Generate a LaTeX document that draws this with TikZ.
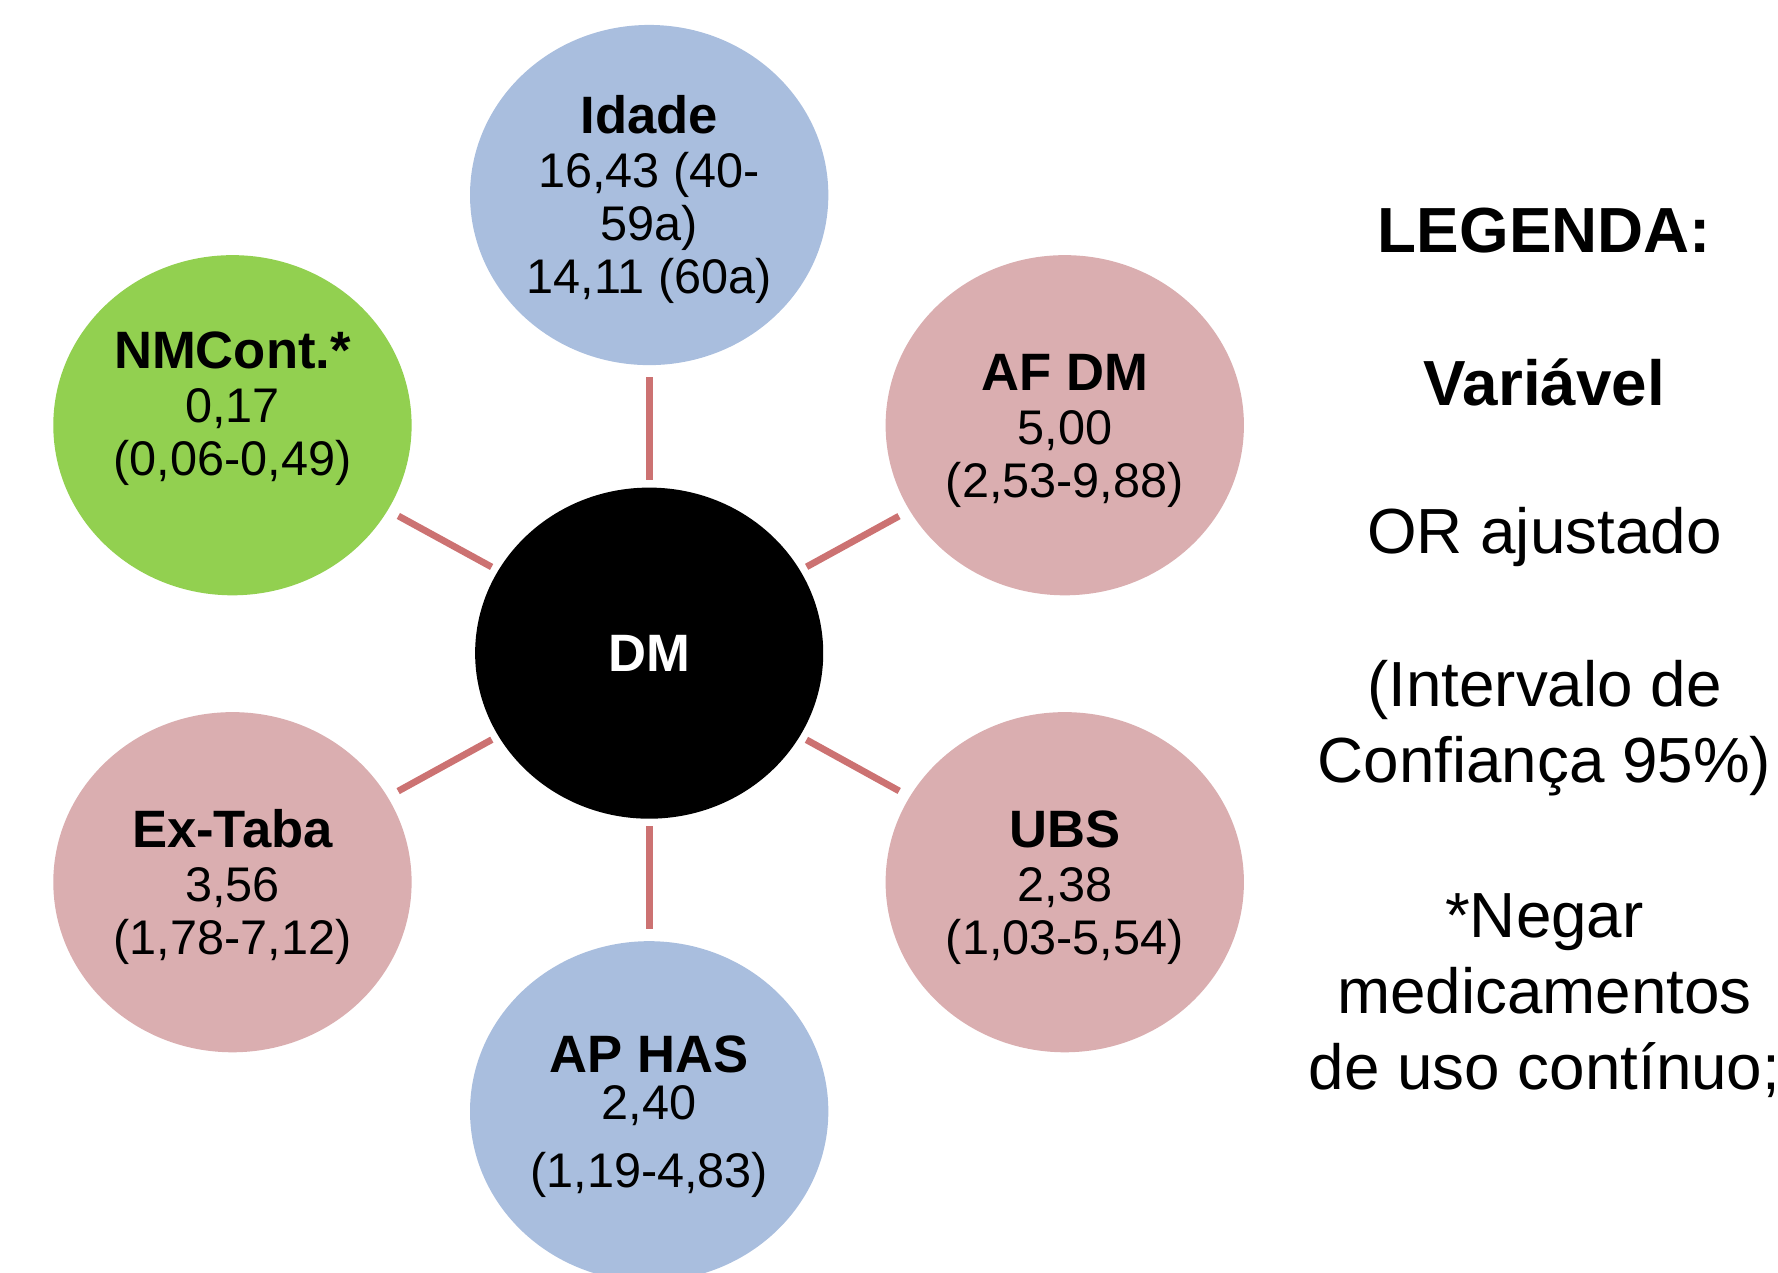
\documentclass[tikz,border=0pt]{standalone}
\usepackage{fontspec}
\setmainfont{Liberation Sans}
\usetikzlibrary{shapes.geometric}
\definecolor{bubblue}{HTML}{A9BEDE}
\definecolor{bubpink}{HTML}{DAAEB0}
\definecolor{bubgreen}{HTML}{92D050}
\definecolor{spokered}{HTML}{CC7272}
\newcommand{\vname}[1]{\mbox{}\\[-0.5mm]{\fontsize{13.2}{13.4}\selectfont\bfseries #1}}

\begin{document}
\begin{tikzpicture}[
  x=1cm,y=1cm,
  bubble/.style={ellipse, minimum width=3.16cm, minimum height=3.0cm, inner sep=0pt, align=center, font=\fontsize{12.2}{13.4}\selectfont},
  spoke/.style={draw=spokered, line width=1.7pt, shorten <=0.06cm, shorten >=0.1cm},
  legtxt/.style={align=center, font=\fontsize{16}{19}\selectfont}
]
\useasboundingbox (0,0) rectangle (15.68,11.22);
\node[bubble, fill=black, text=white, minimum width=3.07cm, minimum height=2.92cm] (dm) at (5.725,5.46) {{\fontsize{13.2}{13.4}\selectfont\bfseries DM}};
\node[bubble, fill=bubblue] (idade) at (5.725,9.50) {\vname{Idade}\\16,43 (40-\\59a)\\14,11 (60a)};
\node[bubble, fill=bubpink] (afdm) at (9.39,7.47) {\vname{AF DM}\\5,00\\(2,53-9,88)};
\node[bubble, fill=bubpink] (ubs) at (9.39,3.44) {\vname{UBS}\\2,38\\(1,03-5,54)};
\node[bubble, fill=bubblue] (aphas) at (5.725,1.42) {\vname{AP HAS}\\[-0.6mm]2,40\\[1.3mm](1,19-4,83)};
\node[bubble, fill=bubpink] (extaba) at (2.05,3.44) {\vname{Ex-Taba}\\3,56\\(1,78-7,12)};
\node[bubble, fill=bubgreen] (nmcont) at (2.05,7.47) {\vname{NMCont.*}\\0,17\\(0,06-0,49)\\\mbox{}};
\draw[spoke] (dm) -- (idade); \draw[spoke] (dm) -- (afdm); \draw[spoke] (dm) -- (ubs); \draw[spoke] (dm) -- (aphas); \draw[spoke] (dm) -- (extaba); \draw[spoke] (dm) -- (nmcont);
\node[legtxt] (legenda) at (13.62,9.19) {\textbf{LEGENDA:}};
\node[legtxt] (legvar) at (13.62,7.85) {\textbf{Variável}};
\node[legtxt] (legor) at (13.62,6.48) {OR ajustado};
\node[legtxt] (legic) at (13.62,4.80) {(Intervalo de\\Confiança 95\%)};
\node[legtxt] (legneg) at (13.62,2.44) {*Negar\\medicamentos\\de uso contínuo;};
\end{tikzpicture}
\end{document}
